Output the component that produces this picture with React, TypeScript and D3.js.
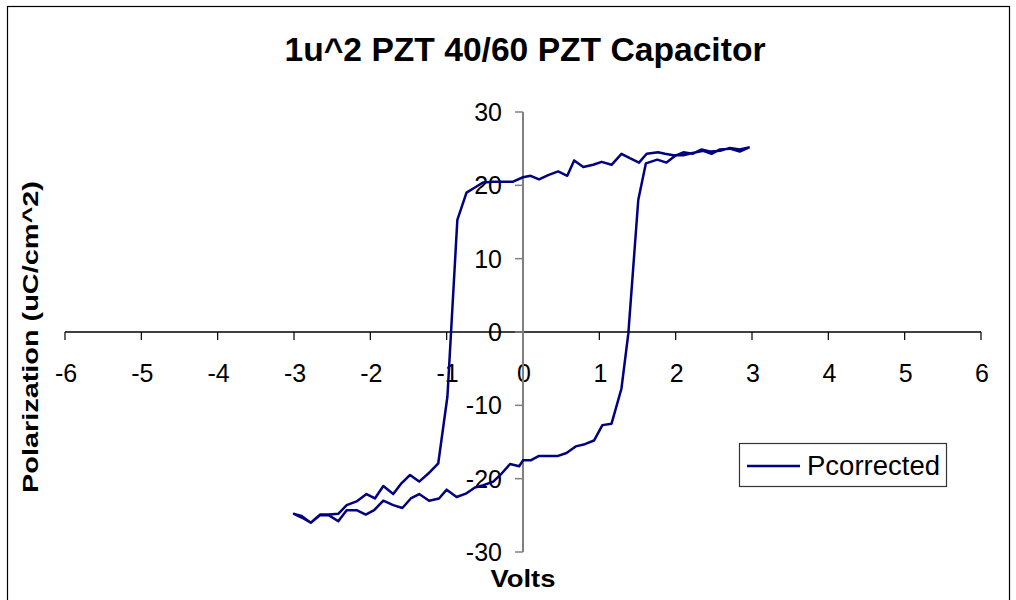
import React from 'react';
import * as d3 from 'd3';

// descending branch (+3 V -> -3 V)
const descVolts = [
  2.97, 2.84, 2.71, 2.58, 2.47, 2.36, 2.22, 2.1, 1.97, 1.86, 1.77, 1.62, 1.52, 1.4, 1.29, 1.16, 1.03,
  0.92, 0.79, 0.67, 0.58, 0.46, 0.33, 0.21, 0.1, 0.0, -0.13, -0.26, -0.39, -0.52, -0.63, -0.74, -0.86,
  -0.99, -1.11, -1.24, -1.36, -1.48, -1.59, -1.7, -1.83, -1.94, -2.05, -2.18, -2.31, -2.42, -2.54,
  -2.66, -2.78, -2.9, -3.0,
];
const descPol = [
  25.2, 24.6, 25.0, 24.9, 24.3, 24.7, 24.4, 24.1, 24.1, 24.3, 24.5, 24.3, 23.1, 23.7, 24.3, 22.8, 23.2,
  22.8, 22.5, 23.4, 21.3, 21.9, 21.4, 20.8, 21.3, 21.1, 20.5, 20.5, 20.5, 20.4, 19.7, 19.0, 15.3,
  -8.8, -17.9, -19.3, -20.4, -19.5, -20.6, -22.1, -21.0, -22.7, -22.1, -23.1, -23.6, -24.8, -24.9,
  -24.9, -26.0, -25.1, -24.8,
];

// ascending branch (-3 V -> +3 V)
const ascVolts = [
  -3.0, -2.9, -2.78, -2.66, -2.54, -2.42, -2.31, -2.18, -2.06, -1.95, -1.83, -1.7, -1.58, -1.47, -1.36,
  -1.23, -1.1, -1.0, -0.87, -0.74, -0.63, -0.52, -0.39, -0.28, -0.17, -0.05, 0.0, 0.1, 0.21, 0.33,
  0.46, 0.57, 0.69, 0.81, 0.93, 1.04, 1.16, 1.29, 1.38, 1.51, 1.61, 1.76, 1.88, 1.99, 2.1, 2.22,
  2.34, 2.46, 2.58, 2.71, 2.84, 2.97,
];
const ascPol = [
  -24.8, -25.3, -26.0, -25.0, -25.0, -25.8, -24.3, -24.3, -24.9, -24.3, -23.0, -23.6, -24.0, -22.7,
  -22.1, -23.0, -22.7, -21.5, -22.5, -22.0, -21.2, -20.9, -20.4, -19.3, -18.0, -18.3, -17.5, -17.5,
  -16.9, -16.9, -16.9, -16.5, -15.6, -15.3, -14.8, -12.7, -12.5, -7.7, -0.2, 18.0, 23.0, 23.5, 23.1,
  24.0, 24.5, 24.3, 24.9, 24.6, 24.7, 25.1, 24.9, 25.2,
];

const xTicks = [-6, -5, -4, -3, -2, -1, 0, 1, 2, 3, 4, 5, 6];
const yTicks = [-30, -20, -10, 0, 10, 20, 30];

const title = '1u^2 PZT 40/60 PZT Capacitor';
const seriesName = 'Pcorrected';

const App = () => {
  const width = 1016;
  const height = 600;
  const font = 'Arial, "Liberation Sans", sans-serif';

  const x = d3.scaleLinear().domain([-6, 6]).range([65, 981]);
  const y = d3.scaleLinear().domain([-30, 30]).range([552, 112]);

  const pts: [number, number][] = [
    ...descVolts.map((v, i) => [v, descPol[i]] as [number, number]),
    ...ascVolts.map((v, i) => [v, ascPol[i]] as [number, number]),
  ];
  const line = d3
    .line<[number, number]>()
    .x(d => x(d[0]))
    .y(d => y(d[1]));

  const x0 = x(0);
  const y0 = y(0);

  return (
    <svg
      width={width}
      height={height}
      style={{ position: 'absolute', left: 0, top: 0, background: '#fff' }}
      fontFamily={font}
    >
      <rect x={0} y={0} width={width} height={height} fill="#fff" />
      <rect x={7.5} y={6.5} width={1002} height={620} fill="none" stroke="#000" strokeWidth={1.2} />

      <text
        x={525}
        y={61}
        textAnchor="middle"
        fontSize={33}
        fontWeight="bold"
        textLength={481}
        lengthAdjust="spacingAndGlyphs"
      >
        {title}
      </text>

      {/* x axis through y=0 */}
      <line x1={x(-6)} x2={x(6)} y1={y0} y2={y0} stroke="#000" strokeWidth={1.5} />
      {xTicks.map(t => (
        <g key={'x' + t}>
          <line x1={x(t)} x2={x(t)} y1={y0} y2={y0 + 8} stroke="#000" strokeWidth={1.2} />
          <text x={x(t) + 1} y={382} textAnchor="middle" fontSize={25}>
            {t}
          </text>
        </g>
      ))}

      {/* y axis through x=0 */}
      <line x1={x0} x2={x0} y1={y(30)} y2={y(-30)} stroke="#808080" strokeWidth={2} />
      {yTicks.map(t => (
        <g key={'y' + t}>
          <line x1={x0 - 8} x2={x0} y1={y(t)} y2={y(t)} stroke="#808080" strokeWidth={1.5} />
          <text x={502} y={y(t)} dy="0.36em" textAnchor="end" fontSize={25}>
            {t}
          </text>
        </g>
      ))}

      <path d={line(pts) ?? ''} fill="none" stroke="#000080" strokeWidth={2.5} strokeLinejoin="round" />

      <text
        x={523}
        y={587}
        textAnchor="middle"
        fontSize={24}
        fontWeight="bold"
        textLength={65}
        lengthAdjust="spacingAndGlyphs"
      >
        Volts
      </text>
      <text
        transform="translate(38,337) rotate(-90)"
        textAnchor="middle"
        fontSize={22}
        fontWeight="bold"
        textLength={312}
        lengthAdjust="spacingAndGlyphs"
      >
        Polarization (uC/cm^2)
      </text>

      <g>
        <rect x={739.5} y={443.5} width={207} height={43} fill="#fff" stroke="#333" strokeWidth={1.2} />
        <line x1={747} x2={800} y1={466} y2={466} stroke="#000080" strokeWidth={2.5} />
        <text x={807} y={475} fontSize={27.5}>
          {seriesName}
        </text>
      </g>
    </svg>
  );
};

export default App;
